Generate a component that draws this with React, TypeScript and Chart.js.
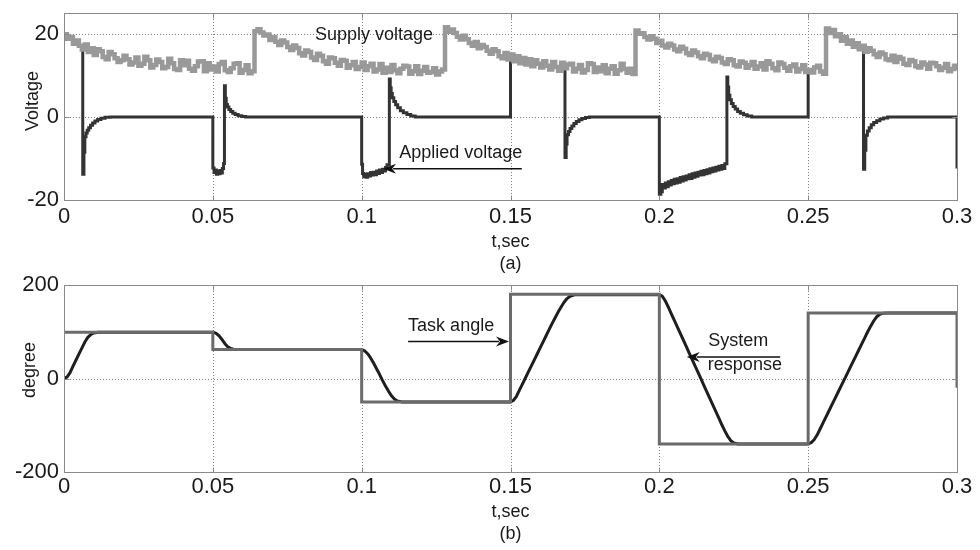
import React, { useEffect, useRef } from "react";
import { Chart, registerables } from "chart.js";

Chart.register(...registerables);

const FONT = "'Liberation Sans', Arial, Helvetica, sans-serif";
const INK = "#1a1a1a";
const FRAME = "#8a8a8a";
const GRID = "#808080";

// ---------- axes ----------
const xTicks = [0, 0.05, 0.1, 0.15, 0.2, 0.25, 0.3];
const xTickLabels = ["0", "0.05", "0.1", "0.15", "0.2", "0.25", "0.3"];
const voltTicks = [-20, 0, 20];
const voltTickLabels = ["-20", "0", "20"];
const voltGrid = [0, 20];
const degTicks = [-200, 0, 200];
const degTickLabels = ["-200", "0", "200"];
const degGrid = [0];

// ---------- (a) supply voltage, sampled every 1 ms from t = 0 ----------
const supplyDt = 0.001;
const supplyV = [
  19.9, 18.8, 19.2, 17.6, 18.4, 17.1, 16.2, 17.4, 15.6, 16.5,
  14.9, 16.3, 15.8, 14.4, 13.9, 15.6, 15.1, 14.1, 13.2, 13.6,
  14.7, 13.9, 12.6, 13.1, 14.3, 12.3, 12.8, 14.5, 13.6, 11.9,
  12.5, 13.8, 13.2, 11.7, 12.0, 14.0, 12.9, 11.5, 11.3, 13.6,
  12.4, 13.5, 11.6, 11.1, 12.2, 13.3, 13.4, 11.0, 12.9, 11.4,
  12.1, 10.9, 12.7, 13.2, 11.2, 10.8, 11.7, 12.8, 12.9, 10.6,
  11.3, 12.4, 10.5, 11.0, 20.6, 21.1, 20.3, 19.6, 19.8, 18.5,
  19.2, 18.1, 17.3, 18.4, 17.9, 16.8, 16.1, 17.2, 16.6, 15.3,
  14.8, 16.0, 15.6, 14.3, 13.7, 15.2, 14.7, 13.4, 12.8, 14.3,
  14.1, 13.0, 12.3, 13.7, 13.5, 11.8, 12.4, 13.2, 11.5, 12.0,
  13.1, 11.3, 12.2, 12.8, 10.9, 11.4, 12.7, 10.6, 11.8, 10.8,
  12.5, 11.2, 10.5, 11.6, 12.3, 12.1, 10.4, 11.0, 12.2, 10.3,
  11.1, 12.0, 10.6, 10.8, 11.7, 10.2, 10.9, 11.4, 21.6, 20.5,
  21.0, 20.2, 19.3, 18.6, 19.5, 18.7, 17.8, 17.1, 18.0, 16.5,
  17.3, 16.8, 15.9, 15.2, 16.3, 15.8, 14.6, 14.1, 15.4, 13.8,
  15.0, 13.4, 14.6, 12.9, 14.2, 12.6, 13.9, 12.2, 13.6, 12.8,
  11.9, 13.4, 12.3, 11.4, 13.2, 12.0, 11.1, 13.0, 11.7, 12.6,
  12.8, 10.9, 11.6, 12.5, 10.7, 11.3, 12.9, 12.7, 10.8, 11.9,
  11.0, 12.4, 10.5, 11.6, 12.2, 10.4, 11.2, 12.8, 11.5, 10.6,
  11.6, 10.3, 20.8, 20.0, 20.1, 19.2, 18.6, 19.4, 18.8, 17.8,
  18.3, 17.2, 16.7, 17.6, 17.2, 16.2, 15.8, 16.9, 16.4, 15.3,
  14.9, 16.0, 15.5, 14.6, 14.1, 15.2, 14.9, 13.8, 13.4, 14.5,
  14.2, 13.1, 12.7, 13.9, 13.6, 12.4, 12.1, 13.3, 13.0, 11.8,
  12.4, 13.2, 11.6, 12.1, 12.9, 11.4, 13.4, 12.8, 11.7, 11.2,
  13.1, 12.7, 11.8, 11.1, 12.2, 12.6, 10.9, 11.5, 12.4, 10.8,
  11.3, 10.7, 11.9, 12.3, 10.9, 10.4, 21.3, 20.2, 20.9, 19.4,
  19.9, 18.3, 19.2, 17.6, 18.4, 16.9, 17.7, 16.3, 17.1, 15.7,
  16.5, 15.9, 15.1, 14.4, 15.5, 15.1, 13.9, 13.6, 14.7, 13.2,
  14.4, 14.0, 12.8, 12.5, 13.7, 13.4, 12.2, 11.9, 13.1, 12.6,
  11.6, 13.0, 12.9, 12.2, 11.3, 11.8, 12.7, 11.0, 11.5, 12.3,
  11.2,
];

// ---------- (a) applied voltage [t, V] (value held until next sample) ----------
const appliedPts: [number, number][] = [
  [0, 19.9], [0.001, 18.8], [0.002, 19.2], [0.003, 17.6], [0.004, 18.4], [0.005, 17.1], [0.006, 16.2],
  [0.0063, -13.8], [0.0067, -8.5], [0.007, -4.8], [0.0074, -3.9], [0.0078, -3.2], [0.0083, -2.6],
  [0.0089, -2.0], [0.0096, -1.5], [0.0104, -1.0], [0.0113, -0.6], [0.0124, -0.3], [0.0138, -0.1], [0.0155, 0],
  [0.05, -12.3], [0.0504, -13.4], [0.0508, -12.8], [0.0512, -13.8], [0.0516, -13.1], [0.052, -13.7],
  [0.0524, -12.9], [0.0528, -13.5], [0.0532, -12.4], [0.0536, -11.2], [0.0539, 7.5], [0.0542, 4.5],
  [0.0545, 3.0], [0.0549, 2.4], [0.0554, 1.8], [0.056, 1.3], [0.0567, 0.9], [0.0575, 0.55], [0.0585, 0.3],
  [0.0597, 0.1], [0.061, 0],
  [0.1, -11.4], [0.1003, -13.6], [0.1007, -14.4], [0.1011, -13.8], [0.1015, -14.5], [0.102, -13.7],
  [0.1025, -14.2], [0.103, -13.4], [0.1035, -14.0], [0.104, -13.3], [0.1045, -13.9], [0.105, -13.0],
  [0.1055, -13.6], [0.106, -12.8], [0.1065, -13.4], [0.107, -12.6], [0.1075, -13.0], [0.108, -12.2],
  [0.1085, -11.5], [0.1093, 9.1], [0.1096, 7.0], [0.1099, 5.6], [0.1103, 4.6], [0.1108, 3.7], [0.1114, 2.9],
  [0.1121, 2.2], [0.113, 1.5], [0.114, 1.0], [0.1152, 0.55], [0.1165, 0.2], [0.118, 0],
  [0.15, 15.0], [0.151, 13.4], [0.152, 14.6], [0.153, 12.9], [0.154, 14.2], [0.155, 12.6], [0.156, 13.9],
  [0.157, 12.2], [0.158, 13.6], [0.159, 12.8], [0.16, 11.9], [0.161, 13.4], [0.162, 12.3], [0.163, 11.4],
  [0.164, 13.2], [0.165, 12.0], [0.166, 11.1], [0.167, 13.0], [0.168, 11.7],
  [0.1683, -9.8], [0.1687, -6.5], [0.169, -4.3], [0.1695, -3.5], [0.17, -2.8], [0.1706, -2.2], [0.1713, -1.6],
  [0.1721, -1.1], [0.173, -0.7], [0.174, -0.4], [0.1752, -0.15], [0.1765, 0],
  [0.2, -18.6], [0.2005, -18.0], [0.201, -16.3], [0.2015, -17.1], [0.202, -15.9], [0.2025, -16.8],
  [0.203, -15.6], [0.2035, -16.4], [0.204, -15.3], [0.2045, -16.1], [0.205, -15.0], [0.2055, -15.9],
  [0.206, -14.9], [0.2065, -15.7], [0.207, -14.6], [0.2075, -15.4], [0.208, -14.4], [0.2085, -15.2],
  [0.209, -14.2], [0.2095, -14.9], [0.21, -13.9], [0.2105, -14.8], [0.211, -13.7], [0.2115, -14.5],
  [0.212, -13.5], [0.2125, -14.3], [0.213, -13.3], [0.2135, -14.0], [0.214, -13.1], [0.2145, -13.9],
  [0.215, -12.9], [0.2155, -13.7], [0.216, -12.7], [0.2165, -13.5], [0.217, -12.5], [0.2175, -13.2],
  [0.218, -12.3], [0.2185, -13.0], [0.219, -12.1], [0.2195, -12.8], [0.22, -11.9], [0.2205, -12.6],
  [0.221, -11.7], [0.2215, -12.4], [0.222, -11.3], [0.2227, 9.6], [0.223, 7.2], [0.2233, 5.2],
  [0.2237, 4.1], [0.2242, 3.2], [0.2248, 2.5], [0.2255, 1.9], [0.2263, 1.3], [0.2272, 0.85],
  [0.2283, 0.5], [0.2295, 0.2], [0.231, 0],
  [0.25, 11.3], [0.251, 10.7], [0.252, 11.9], [0.253, 12.3], [0.254, 10.9], [0.255, 10.4], [0.256, 21.3],
  [0.257, 20.2], [0.258, 20.9], [0.259, 19.4], [0.26, 19.9], [0.261, 18.3], [0.262, 19.2], [0.263, 17.6],
  [0.264, 18.4], [0.265, 16.9], [0.266, 17.7], [0.267, 16.3], [0.268, 17.1],
  [0.2686, -12.6], [0.269, -8.0], [0.2694, -4.4], [0.2699, -3.4], [0.2705, -2.6], [0.2712, -1.9],
  [0.272, -1.35], [0.273, -0.9], [0.2741, -0.5], [0.2753, -0.25], [0.2767, 0],
  [0.3, -12.4],
];

// ---------- (b) task angle [t, deg] ----------
const taskPts: [number, number][] = [
  [0, 99], [0.05, 99], [0.05, 62], [0.1, 62], [0.1, -50], [0.15, -50], [0.15, 180], [0.2, 180],
  [0.2, -140], [0.25, -140], [0.25, 140], [0.3, 140], [0.3, -20],
];

// ---------- (b) system response [t, deg] ----------
const responsePts: [number, number][] = [
  [0, 0], [0.001, 3], [0.002, 12], [0.003, 26], [0.004, 39], [0.005, 52], [0.006, 65], [0.007, 78],
  [0.008, 88], [0.009, 94], [0.01, 97.5], [0.0115, 99], [0.05, 99],
  [0.051, 97], [0.052, 92], [0.053, 84], [0.054, 75], [0.055, 68], [0.056, 64], [0.057, 62.5], [0.059, 62], [0.1, 62],
  [0.101, 59], [0.102, 53], [0.103, 44], [0.104, 33], [0.105, 21], [0.106, 9], [0.107, -4], [0.108, -16],
  [0.109, -27], [0.11, -37], [0.111, -44], [0.112, -48], [0.1135, -50], [0.15, -50],
  [0.151, -47], [0.152, -38], [0.153, -25], [0.154, -12], [0.155, 1], [0.156, 14], [0.157, 27], [0.158, 40],
  [0.159, 53], [0.16, 66], [0.161, 79], [0.162, 92], [0.163, 105], [0.164, 118], [0.165, 130], [0.166, 142],
  [0.167, 153], [0.168, 163], [0.169, 171], [0.17, 176], [0.1715, 179], [0.2, 179],
  [0.201, 176], [0.202, 166], [0.203, 153], [0.204, 139], [0.205, 125], [0.206, 111], [0.207, 97], [0.208, 83],
  [0.209, 69], [0.21, 55], [0.211, 41], [0.212, 27], [0.213, 13], [0.214, -1], [0.215, -15], [0.216, -29],
  [0.217, -43], [0.218, -57], [0.219, -71], [0.22, -85], [0.221, -99], [0.222, -112], [0.223, -124],
  [0.224, -133], [0.225, -138], [0.2265, -140], [0.25, -140],
  [0.251, -137], [0.252, -131], [0.253, -121], [0.254, -108], [0.255, -95], [0.256, -82], [0.257, -69],
  [0.258, -56], [0.259, -43], [0.26, -30], [0.261, -17], [0.262, -4], [0.263, 9], [0.264, 22], [0.265, 35],
  [0.266, 48], [0.267, 61], [0.268, 74], [0.269, 87], [0.27, 100], [0.271, 112], [0.272, 123], [0.273, 132],
  [0.274, 137], [0.275, 139.5], [0.277, 140], [0.3, 140],
];

// ---------- annotations (data coordinates) ----------
const notesA = [
  { text: "Supply voltage", t: 0.0843, v: 18.5 },
  { text: "Applied voltage", t: 0.1126, v: -10.0 },
];
const arrowsA = [{ from: [0.1538, -12.5], to: [0.1072, -12.5] }];
const notesB = [
  { text: "Task angle", t: 0.1156, v: 100.6 },
  { text: "System", t: 0.2164, v: 70 },
  { text: "response", t: 0.2163, v: 18.5 },
];
const arrowsB = [
  { from: [0.1156, 79.2], to: [0.1495, 79.2] },
  { from: [0.2406, 46], to: [0.2092, 46] },
];

const toXY = (pts: [number, number][]) => pts.map(([x, y]) => ({ x, y }));

const framePlugin = {
  id: "frame",
  beforeDatasetsDraw(chart: any, _args: any, opts: any) {
    const { ctx, chartArea: a } = chart;
    const xs = chart.scales.x;
    const ys = chart.scales.y;
    ctx.save();
    ctx.strokeStyle = GRID;
    ctx.lineWidth = 1;
    ctx.setLineDash([1, 2]);
    ctx.beginPath();
    xTicks.forEach((t, i) => {
      if (i === 0 || i === xTicks.length - 1) return;
      const px = Math.round(xs.getPixelForValue(t)) + 0.5;
      ctx.moveTo(px, a.top);
      ctx.lineTo(px, a.bottom);
    });
    (opts.grid as number[]).forEach((v) => {
      const py = Math.round(ys.getPixelForValue(v)) + 0.5;
      ctx.moveTo(a.left, py);
      ctx.lineTo(a.right, py);
    });
    ctx.stroke();
    ctx.restore();
  },
  afterDatasetsDraw(chart: any, _args: any, opts: any) {
    const { ctx, chartArea: a } = chart;
    const xs = chart.scales.x;
    const ys = chart.scales.y;
    ctx.save();
    ctx.strokeStyle = FRAME;
    ctx.lineWidth = 1;
    ctx.setLineDash([]);
    const L = Math.round(a.left) + 0.5;
    const T = Math.round(a.top) + 0.5;
    const R = Math.round(a.right) + 0.5;
    const B = Math.round(a.bottom) + 0.5;
    ctx.strokeRect(L, T, R - L, B - T);
    ctx.beginPath();
    xTicks.forEach((t) => {
      const px = Math.round(xs.getPixelForValue(t)) + 0.5;
      ctx.moveTo(px, B);
      ctx.lineTo(px, B - 5);
      ctx.moveTo(px, T);
      ctx.lineTo(px, T + 5);
    });
    (opts.yTicks as number[]).forEach((v) => {
      const py = Math.round(ys.getPixelForValue(v)) + 0.5;
      ctx.moveTo(L, py);
      ctx.lineTo(L + 5, py);
      ctx.moveTo(R, py);
      ctx.lineTo(R - 5, py);
    });
    ctx.stroke();

    // y-axis title
    ctx.fillStyle = INK;
    ctx.font = `18px ${FONT}`;
    ctx.save();
    ctx.translate(opts.yTitle.x, (a.top + a.bottom) / 2 + opts.yTitle.shift);
    ctx.rotate(-Math.PI / 2);
    ctx.textAlign = "center";
    ctx.textBaseline = "middle";
    ctx.fillText(opts.yTitle.text, 0, 0);
    ctx.restore();

    // annotation texts
    ctx.textAlign = "left";
    ctx.textBaseline = "alphabetic";
    (opts.notes as any[]).forEach((n) => {
      ctx.fillText(n.text, xs.getPixelForValue(n.t), ys.getPixelForValue(n.v));
    });

    // arrows
    ctx.strokeStyle = "#111";
    ctx.fillStyle = "#111";
    ctx.lineWidth = 1.5;
    (opts.arrows as any[]).forEach((ar) => {
      const x1 = xs.getPixelForValue(ar.from[0]);
      const y1 = ys.getPixelForValue(ar.from[1]);
      const x2 = xs.getPixelForValue(ar.to[0]);
      const y2 = ys.getPixelForValue(ar.to[1]);
      const ang = Math.atan2(y2 - y1, x2 - x1);
      const hl = 13;
      const hw = 5;
      const bx = x2 - hl * Math.cos(ang);
      const by = y2 - hl * Math.sin(ang);
      ctx.beginPath();
      ctx.moveTo(x1, y1);
      ctx.lineTo(bx + 3 * Math.cos(ang), by + 3 * Math.sin(ang));
      ctx.stroke();
      ctx.beginPath();
      ctx.moveTo(x2, y2);
      ctx.lineTo(bx - hw * Math.sin(ang), by + hw * Math.cos(ang));
      ctx.lineTo(bx + 4 * Math.cos(ang), by + 4 * Math.sin(ang));
      ctx.lineTo(bx + hw * Math.sin(ang), by - hw * Math.cos(ang));
      ctx.closePath();
      ctx.fill();
    });
    ctx.restore();
  },
};

function xScale(height: number, padding: number, title: string[]) {
  return {
    type: "linear",
    min: 0,
    max: 0.3,
    afterBuildTicks: (s: any) => {
      s.ticks = xTicks.map((v) => ({ value: v }));
    },
    afterFit: (s: any) => {
      s.height = height;
      s.paddingLeft = 0;
      s.paddingRight = 0;
    },
    grid: { display: false, drawTicks: false },
    border: { display: false },
    ticks: {
      autoSkip: false,
      maxRotation: 0,
      padding,
      color: INK,
      font: { family: FONT, size: 22 },
      callback: (_v: any, i: number) => xTickLabels[i],
    },
    title: {
      display: true,
      text: title,
      color: INK,
      font: { family: FONT, size: 18, lineHeight: "22px" },
      padding: { top: 0, bottom: 5 },
    },
  };
}

function yScale(min: number, max: number, ticks: number[], labels: string[]) {
  return {
    type: "linear",
    min,
    max,
    afterBuildTicks: (s: any) => {
      s.ticks = ticks.map((v) => ({ value: v }));
    },
    afterFit: (s: any) => {
      s.width = 64;
      s.paddingTop = 0;
      s.paddingBottom = 0;
    },
    grid: { display: false, drawTicks: false },
    border: { display: false },
    ticks: {
      padding: 5,
      color: INK,
      font: { family: FONT, size: 22 },
      callback: (_v: any, i: number) => labels[i],
    },
  };
}

export default function App() {
  const topRef = useRef<HTMLCanvasElement>(null);
  const botRef = useRef<HTMLCanvasElement>(null);

  useEffect(() => {
    Chart.defaults.font.family = FONT;
    const supplyData = supplyV.map((v, i) => ({ x: Math.round(i * supplyDt * 1000) / 1000, y: v }));

    const top = new Chart(topRef.current as HTMLCanvasElement, {
      type: "line",
      data: {
        datasets: [
          {
            label: "Supply voltage",
            data: supplyData,
            borderColor: "#999999",
            borderWidth: 4.5,
            stepped: true,
            pointRadius: 0,
            fill: false,
          },
          {
            label: "Applied voltage",
            data: toXY(appliedPts),
            borderColor: "#333333",
            borderWidth: 3,
            stepped: true,
            pointRadius: 0,
            fill: false,
          },
        ],
      },
      options: {
        responsive: false,
        animation: false,
        events: [],
        layout: { padding: { left: 0, right: 23, top: 13, bottom: 0 } },
        plugins: {
          legend: { display: false },
          tooltip: { enabled: false },
          frame: {
            grid: voltGrid,
            yTicks: voltTicks,
            yTitle: { text: "Voltage", x: 33.5, shift: -5.5 },
            notes: notesA,
            arrows: arrowsA,
          },
        } as any,
        scales: {
          x: xScale(80, 4, ["t,sec", "(a)"]) as any,
          y: yScale(-20, 25, voltTicks, voltTickLabels) as any,
        },
      },
      plugins: [framePlugin],
    });

    const bottom = new Chart(botRef.current as HTMLCanvasElement, {
      type: "line",
      data: {
        datasets: [
          {
            label: "Task angle",
            data: toXY(taskPts),
            borderColor: "#6b6b6b",
            borderWidth: 3,
            pointRadius: 0,
            fill: false,
            tension: 0,
            borderJoinStyle: "miter",
          },
          {
            label: "System response",
            data: toXY(responsePts),
            borderColor: "#1e1e1e",
            borderWidth: 3,
            pointRadius: 0,
            fill: false,
            tension: 0,
            borderJoinStyle: "round",
          },
        ],
      },
      options: {
        responsive: false,
        animation: false,
        events: [],
        layout: { padding: { left: 0, right: 23, top: 23, bottom: 0 } },
        plugins: {
          legend: { display: false },
          tooltip: { enabled: false },
          frame: {
            grid: degGrid,
            yTicks: degTicks,
            yTitle: { text: "degree", x: 30, shift: -8.5 },
            notes: notesB,
            arrows: arrowsB,
          },
        } as any,
        scales: {
          x: xScale(78, 2, ["t,sec", "(b)"]) as any,
          y: yScale(-200, 200, degTicks, degTickLabels) as any,
        },
      },
      plugins: [framePlugin],
    });

    return () => {
      top.destroy();
      bottom.destroy();
    };
  }, []);

  return (
    <div
      style={{
        position: "absolute",
        left: 0,
        top: 0,
        width: 980,
        height: 550,
        background: "#ffffff",
        overflow: "hidden",
      }}
    >
      <canvas
        ref={topRef}
        width={980}
        height={280}
        style={{ position: "absolute", left: 0, top: 0, width: 980, height: 280 }}
      />
      <canvas
        ref={botRef}
        width={980}
        height={288}
        style={{ position: "absolute", left: 0, top: 262, width: 980, height: 288 }}
      />
    </div>
  );
}
